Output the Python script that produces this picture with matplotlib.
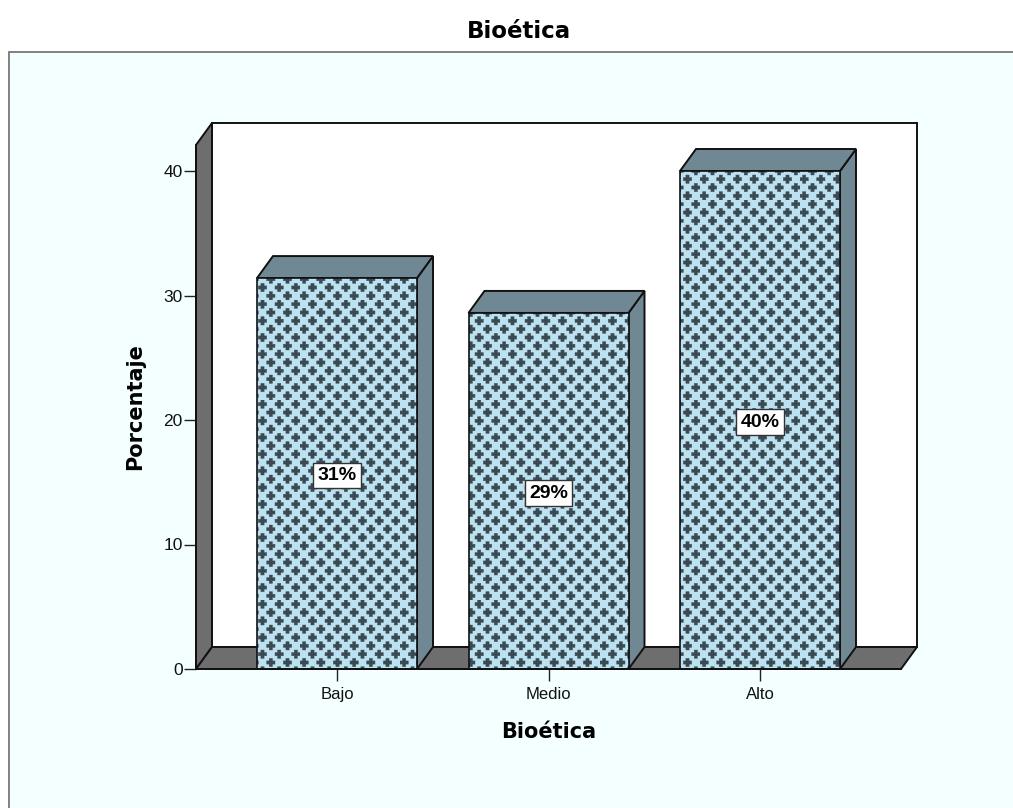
import matplotlib
matplotlib.use("Agg")
import matplotlib.pyplot as plt
import matplotlib.hatch as mhatch
from matplotlib.patches import Polygon, Rectangle
from matplotlib.path import Path
import numpy as np

categories = ["Bajo", "Medio", "Alto"]
values = [31.4, 28.6, 40.0]
y_ticks = [0, 10, 20, 30, 40]
title = "Bioética"
x_label = "Bioética"
y_label = "Porcentaje"

W, H = 1013, 808
BG = "#F4FFFF"; FRONT = "#BCE1F0"; HATCH = "#3A4A53"; SIDE = "#6F8893"; WALL = "#6E6E6E"

class PlusHatch(mhatch.HatchPatternBase):
    filled = True
    def __init__(self, hatch, density):
        self.count = hatch.count("P")
        cols, rows = 6, 12
        self.arm, self.th = 0.0415, 0.016
        self.centers = []
        if self.count > 0:
            for r in range(rows):
                for c in range(cols):
                    self.centers.append(((c + (0.5 if r % 2 else 0.0)) / cols + 1/24,
                                         r / rows + 1/24))
        self.num_vertices = len(self.centers) * 13
    def set_vertices_and_codes(self, vertices, codes):
        a, t = self.arm, self.th
        shape = np.array([(-t,-a),(t,-a),(t,-t),(a,-t),(a,t),(t,t),(t,a),(-t,a),(-t,t),(-a,t),(-a,-t),(-t,-t),(-t,-a)])
        for i, (cx, cy) in enumerate(self.centers):
            vertices[i*13:(i+1)*13] = shape + (cx, cy)
            codes[i*13] = Path.MOVETO
            codes[i*13+1:(i+1)*13-1] = Path.LINETO
            codes[(i+1)*13-1] = Path.CLOSEPOLY

mhatch._hatch_types.append(PlusHatch)

plt.rcParams["font.family"] = ["Liberation Sans", "DejaVu Sans"]
plt.rcParams["hatch.linewidth"] = 0.3

fig = plt.figure(figsize=(W/100, H/100), dpi=100, facecolor="white")
fig.add_artist(Rectangle((9/W, -0.01), 1.1, (H-52)/H + 0.01, transform=fig.transFigure,
                         facecolor=BG, edgecolor="#777777", linewidth=1.3, zorder=-5))

left, right, bottom, top = 196, 901, 669, 145
ax = fig.add_axes([left/W, 1-bottom/H, (right-left)/W, (bottom-top)/H])
ax.patch.set_alpha(0)
n = len(categories)
ax.set_xlim(-0.6667, n - 1 + 0.6667)
ax.set_ylim(0, (bottom-top)/12.45)
x0, x1 = ax.get_xlim(); y1 = ax.get_ylim()[1]
px = (x1-x0)/(right-left); py = y1/(bottom-top)
dx, dy = 16*px, 22*py
edge = dict(edgecolor="#111111", linewidth=1.4, joinstyle="miter", clip_on=False)

ax.add_patch(Polygon([(x0+dx,dy),(x1+dx,dy),(x1+dx,y1+dy),(x0+dx,y1+dy)], facecolor="white", zorder=1, **edge))
ax.add_patch(Polygon([(x0,0),(x0+dx,dy),(x0+dx,y1+dy),(x0,y1)], facecolor=WALL, zorder=1.1, **edge))
ax.add_patch(Polygon([(x0,0),(x1,0),(x1+dx,dy),(x0+dx,dy)], facecolor=WALL, zorder=1.1, **edge))

w = 160*px
for i, v in enumerate(values):
    a, b = i-w/2, i+w/2
    ax.add_patch(Polygon([(b,0),(b+dx,dy),(b+dx,v+dy),(b,v)], facecolor=SIDE, zorder=2, **edge))
    ax.add_patch(Polygon([(a,v),(b,v),(b+dx,v+dy),(a+dx,v+dy)], facecolor=SIDE, zorder=2, **edge))
    ax.bar(i, v, width=w, facecolor=FRONT, edgecolor=HATCH, linewidth=0, hatch="P", zorder=3)
    ax.bar(i, v, width=w, fill=False, edgecolor="#111111", linewidth=1.2, zorder=3.1)
    ax.annotate(f"{v:.0f}%", xy=(i, v/2), xytext=(0, -1.5), textcoords="offset points",
                ha="center", va="center", fontsize=14, fontweight="bold", color="black", zorder=4,
                bbox=dict(boxstyle="square,pad=0.22", facecolor="white", edgecolor="#333333", linewidth=1))

for s in ["top", "right"]:
    ax.spines[s].set_visible(False)
for s in ["left", "bottom"]:
    ax.spines[s].set_linewidth(1.3); ax.spines[s].set_color("#111111"); ax.spines[s].set_zorder(5)
ax.set_xticks(range(n), categories)
ax.set_yticks(y_ticks)
ax.tick_params(axis="both", length=8.5, width=1, color="#222222", labelsize=12, labelcolor="#111111")
ax.tick_params(axis="y", pad=1, labelsize=12.5)
ax.tick_params(axis="x", pad=4.5)

fig.text(519/W, 1-32/H, title, ha="center", va="center", fontsize=16.5, fontweight="bold", family="DejaVu Sans")
fig.text(549/W, 1-732/H, x_label, ha="center", va="center", fontsize=15, fontweight="bold", family="DejaVu Sans")
fig.text(135/W, 1-407/H, y_label, ha="center", va="center", rotation=90, fontsize=15, fontweight="bold", family="DejaVu Sans")

fig.savefig("out.png", dpi=100)
